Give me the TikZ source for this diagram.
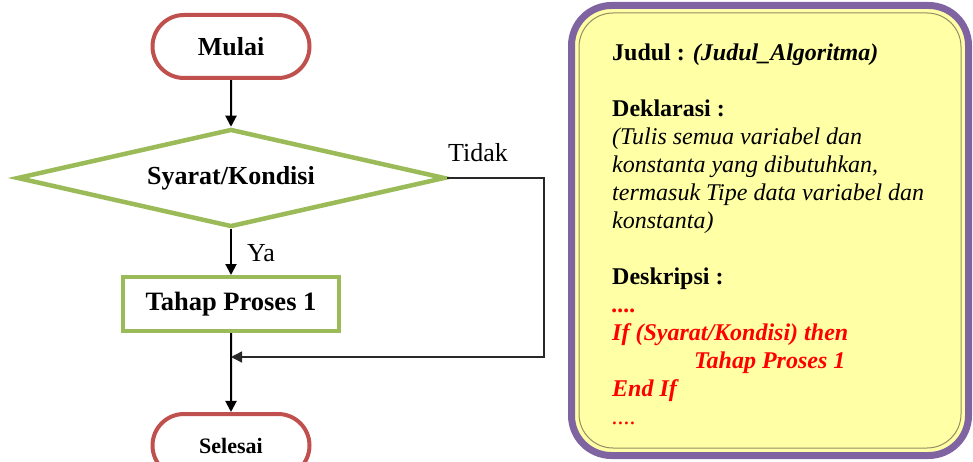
\documentclass[tikz,border=0pt]{standalone}
\usepackage{fontspec}
\setmainfont{Liberation Serif}
\usetikzlibrary{shapes.geometric,shapes.misc,arrows.meta,positioning}

\definecolor{merah}{RGB}{192,80,77}
\definecolor{hijau}{RGB}{155,187,89}
\definecolor{ungu}{RGB}{128,100,162}
\definecolor{kuning}{RGB}{255,255,166}
\definecolor{zaitun}{RGB}{150,140,100}
\definecolor{garis}{RGB}{40,40,40}

\begin{document}
\begin{tikzpicture}[x=1pt,y=-1pt,
    terminal/.style={rounded rectangle, draw=merah, line width=4pt, fill=white,
      minimum width=157pt, minimum height=63pt, inner sep=0pt},
    keputusan/.style={diamond, aspect=4.2, draw=hijau, line width=4.5pt, fill=white,
      minimum width=428pt, minimum height=98pt, inner sep=0pt,
      font=\fontsize{26}{30}\selectfont\bfseries},
    langkah/.style={rectangle, draw=hijau, line width=4pt, fill=white,
      minimum width=216pt, minimum height=54pt, inner sep=0pt,
      font=\fontsize{26.5}{30}\selectfont\bfseries},
    alur/.style={line width=2pt, -{Triangle[length=11pt,width=11pt]}},
    teks/.style={font=\fontsize{24}{28}\selectfont, inner sep=0pt}]
    \useasboundingbox (0,0) rectangle (973,462);

    % flowchart
    \node[terminal, font=\fontsize{26}{30}\selectfont\bfseries] (mulai) at (231,46.5) {Mulai};
    \node[keputusan] (syarat) at (231,178) {Syarat/Kondisi};
    \node[langkah] (tahap1) at (231,304) {Tahap Proses 1};
    \node[terminal, font=\fontsize{22}{26}\selectfont\bfseries] (selesai) at (231,445.5) {Selesai};

    \node[teks, font=\fontsize{26}{30}\selectfont] (ya) at (261,253) {Ya};
    \node[teks, font=\fontsize{26}{30}\selectfont] (tidak) at (478,153) {Tidak};

    \coordinate (belok) at (544,357);
    \coordinate (gabung) at (tahap1.south |- 0,357);

    \draw[alur] (mulai) -- (syarat);
    \draw[alur] (syarat) -- (tahap1);
    \draw[alur] (tahap1) -- (selesai);
    \draw[alur, line width=1.5pt, draw=garis] (syarat.east) -| (belok) -- (gabung);

    % algorithm box
    \draw[ungu, line width=7pt, fill=kuning, rounded corners=40pt] (571.5,5.5) rectangle (968.5,455.5);
    \draw[zaitun, line width=1pt, rounded corners=34pt] (579,13) rectangle (961,448);

    \node[teks, anchor=north west, align=left] (algoritma) at (612,44) {%
      \textbf{Judul : \textit{(Judul\_Algoritma)}}\\[28pt]
      \textbf{Deklarasi :}\\
      \textit{(Tulis semua variabel dan}\\
      \textit{konstanta yang dibutuhkan,}\\
      \textit{termasuk Tipe data variabel dan}\\
      \textit{konstanta)}\\[28pt]
      \textbf{Deskripsi :}\\
      {\color{red}\textbf{\textit{....}}}\\
      {\color{red}\textbf{\textit{If (Syarat/Kondisi) then}}}\\
      {\color{red}\hspace*{82pt}\textbf{\textit{Tahap Proses 1}}}\\
      {\color{red}\textbf{\textit{End If}}}\\
      {\color{red}\textit{....}}};
\end{tikzpicture}
\end{document}
